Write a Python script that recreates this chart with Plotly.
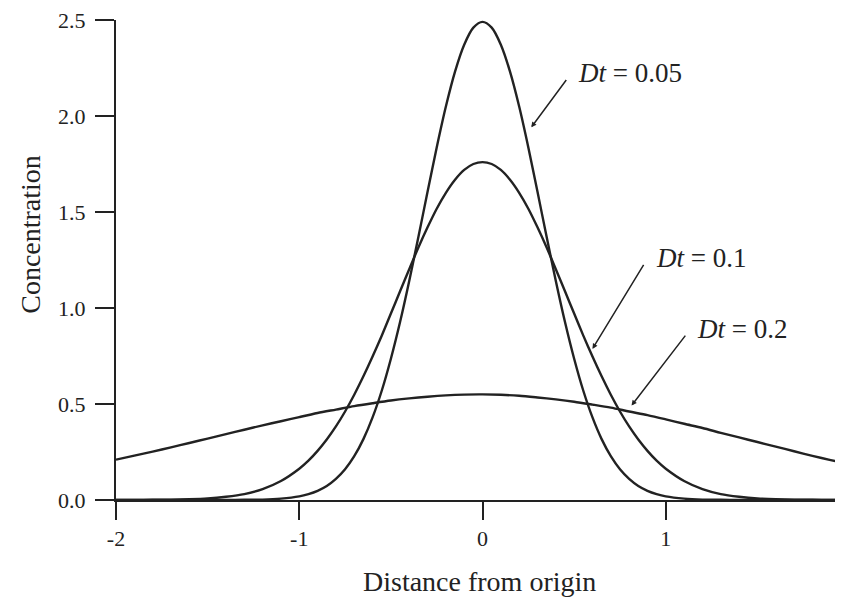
import plotly.graph_objects as go

# Distance from origin for the two narrow curves (finer sampling near the peak)
x_fine = [-2.0, -1.9, -1.8, -1.7, -1.6, -1.5, -1.4, -1.3, -1.2, -1.1, -1.0,
          -0.95, -0.9, -0.85, -0.8, -0.75, -0.7, -0.65, -0.6, -0.55, -0.5,
          -0.45, -0.4, -0.35, -0.3, -0.25, -0.2, -0.15, -0.1, -0.05, 0.0,
          0.05, 0.1, 0.15, 0.2, 0.25, 0.3, 0.35, 0.4, 0.45, 0.5,
          0.55, 0.6, 0.65, 0.7, 0.75, 0.8, 0.85, 0.9, 0.95, 1.0,
          1.1, 1.2, 1.3, 1.4, 1.5, 1.6, 1.7, 1.8, 1.9, 2.0]

# Concentration, Dt = 0.05
conc_005 = [0.0, 0.0, 0.0, 0.0, 0.0, 0.0, 0.0, 0.001, 0.002, 0.007, 0.019,
            0.031, 0.048, 0.073, 0.110, 0.160, 0.228, 0.317, 0.430, 0.569, 0.736,
            0.927, 1.141, 1.370, 1.605, 1.836, 2.049, 2.231, 2.371, 2.460, 2.49,
            2.460, 2.371, 2.231, 2.049, 1.836, 1.605, 1.370, 1.141, 0.927, 0.736,
            0.569, 0.430, 0.317, 0.228, 0.160, 0.110, 0.073, 0.048, 0.031, 0.019,
            0.007, 0.002, 0.001, 0.0, 0.0, 0.0, 0.0, 0.0, 0.0, 0.0]

# Concentration, Dt = 0.1
conc_01 = [0.0, 0.0, 0.001, 0.002, 0.004, 0.008, 0.017, 0.031, 0.057, 0.099, 0.163,
           0.205, 0.256, 0.315, 0.383, 0.461, 0.548, 0.644, 0.747, 0.856, 0.971,
           1.087, 1.202, 1.315, 1.420, 1.517, 1.600, 1.668, 1.719, 1.750, 1.76,
           1.750, 1.719, 1.668, 1.600, 1.517, 1.420, 1.315, 1.202, 1.087, 0.971,
           0.856, 0.747, 0.644, 0.548, 0.461, 0.383, 0.315, 0.256, 0.205, 0.163,
           0.099, 0.057, 0.031, 0.017, 0.008, 0.004, 0.002, 0.001, 0.0, 0.0]

# Distance from origin for the broad curve
x_coarse = [-2.0, -1.9, -1.8, -1.7, -1.6, -1.5, -1.4, -1.3, -1.2, -1.1, -1.0,
            -0.9, -0.8, -0.7, -0.6, -0.5, -0.4, -0.3, -0.2, -0.1, 0.0,
            0.1, 0.2, 0.3, 0.4, 0.5, 0.6, 0.7, 0.8, 0.9, 1.0,
            1.1, 1.2, 1.3, 1.4, 1.5, 1.6, 1.7, 1.8, 1.9, 2.0]

# Concentration, Dt = 0.2
conc_02 = [0.210, 0.231, 0.252, 0.274, 0.297, 0.320, 0.343, 0.366, 0.389, 0.410, 0.432,
           0.453, 0.471, 0.489, 0.504, 0.518, 0.529, 0.538, 0.545, 0.549, 0.550,
           0.548, 0.543, 0.534, 0.524, 0.512, 0.497, 0.481, 0.461, 0.442, 0.420,
           0.397, 0.375, 0.350, 0.326, 0.302, 0.278, 0.254, 0.230, 0.208, 0.186]

x_ticks = [-2, -1, 0, 1, 2]
x_tick_labels = ["-2", "-1", "0", "1", "2"]
y_ticks = [0.0, 0.5, 1.0, 1.5, 2.0, 2.5]
y_tick_labels = ["0.0", "0.5", "1.0", "1.5", "2.0", "2.5"]

# Curve labels with their arrows (in data units)
label_texts = ["<i>Dt</i> = 0.05", "<i>Dt</i> = 0.1", "<i>Dt</i> = 0.2"]
label_x = [0.512, 0.938, 1.157]
label_y = [2.226, 1.258, 0.890]
arrow_tail_x = [0.463, 0.884, 1.113]
arrow_tail_y = [2.195, 1.232, 0.864]
arrow_head_x = [0.266, 0.600, 0.813]
arrow_head_y = [1.941, 0.787, 0.492]

INK = "#222222"
FONT = "Liberation Serif, Times New Roman, serif"

fig = go.Figure()
fig.add_trace(go.Scatter(x=x_coarse, y=conc_02, mode="lines",
                         line=dict(color=INK, width=2.4, shape="spline", smoothing=0.8),
                         showlegend=False, hoverinfo="skip"))
for ys in (conc_01, conc_005):
    fig.add_trace(go.Scatter(x=x_fine, y=ys, mode="lines",
                             line=dict(color=INK, width=2.4, shape="spline", smoothing=0.8),
                             showlegend=False, hoverinfo="skip"))

annotations = []
for t, lx, ly, tx, ty, hx, hy in zip(label_texts, label_x, label_y,
                                      arrow_tail_x, arrow_tail_y, arrow_head_x, arrow_head_y):
    annotations.append(dict(x=hx, y=hy, ax=tx, ay=ty, xref="x", yref="y",
                            axref="x", ayref="y", text="", showarrow=True,
                            arrowhead=2, arrowsize=0.7, arrowwidth=1.5,
                            arrowcolor=INK, standoff=0, startstandoff=0))
    annotations.append(dict(x=lx, y=ly, xref="x", yref="y", text=t, showarrow=False,
                            xanchor="left", yanchor="middle",
                            font=dict(family=FONT, size=27, color=INK)))

annotations.append(dict(x=0.5, y=-0.170, xref="paper", yref="paper",
                        text="Distance from origin", showarrow=False,
                        xanchor="center", yanchor="middle",
                        font=dict(family=FONT, size=28, color=INK)))
annotations.append(dict(x=-0.118, y=0.553, xref="paper", yref="paper",
                        text="Concentration", showarrow=False, textangle=-90,
                        xanchor="center", yanchor="middle",
                        font=dict(family=FONT, size=28, color=INK)))

# The page body adds an 8px offset, so the figure is sized to end at the window edge.
fig.update_layout(
    width=835, height=590,
    margin=dict(l=108, r=0, t=9, b=98),
    paper_bgcolor="white", plot_bgcolor="white",
    annotations=annotations,
    xaxis=dict(range=[-2, 1.967], tickvals=x_ticks, ticktext=x_tick_labels,
               showgrid=False, zeroline=False, showline=True, linecolor=INK, linewidth=2,
               ticks="outside", ticklen=18, tickwidth=2, tickcolor=INK,
               ticklabeloverflow="allow",
               tickfont=dict(family=FONT, size=22, color=INK)),
    yaxis=dict(range=[0, 2.5], tickvals=y_ticks, ticktext=y_tick_labels,
               showgrid=False, zeroline=False, showline=True, linecolor=INK, linewidth=2,
               ticks="outside", ticklen=19, tickwidth=2, tickcolor=INK,
               ticklabelstandoff=5, ticklabeloverflow="allow",
               tickfont=dict(family=FONT, size=22, color=INK)),
)

fig.write_html("out.html")
